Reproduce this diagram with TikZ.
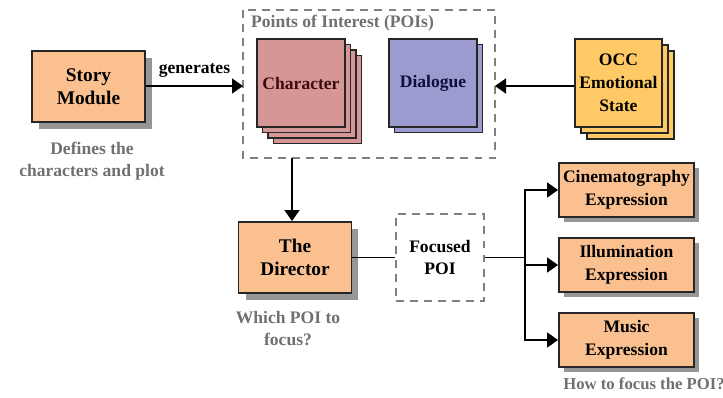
\documentclass[tikz,border=0pt]{standalone}
\usepackage{fontspec}
\setmainfont{Liberation Serif}
\usetikzlibrary{arrows.meta}
\definecolor{storyfill}{RGB}{250,192,144}
\definecolor{charfill}{RGB}{214,150,150}
\definecolor{dialfill}{RGB}{155,155,208}
\definecolor{occfill}{RGB}{255,202,102}
\definecolor{shadowgray}{RGB}{150,150,150}
\definecolor{notegray}{RGB}{112,112,112}
\definecolor{dashgray}{RGB}{128,128,128}
\tikzset{
	box/.style={draw=black!85, line width=1.1pt, align=center, inner sep=0pt,
		font=\bfseries\fontsize{10}{13}\selectfont},
	bigbox/.style={box, fill=storyfill, minimum width=2.26cm, minimum height=1.42cm,
		font=\bfseries\fontsize{11}{13}\selectfont},
	bigshadow/.style={fill=shadowgray, minimum width=2.26cm, minimum height=1.42cm, inner sep=0pt},
	exprbox/.style={box, fill=storyfill, minimum width=2.7cm, minimum height=1.08cm},
	exprshadow/.style={fill=shadowgray, minimum width=2.7cm, minimum height=1.08cm, inner sep=0pt},
	charbox/.style={box, fill=charfill, minimum width=1.76cm, minimum height=1.76cm, text={rgb,255:red,60;green,12;blue,12}},
	dialbox/.style={box, fill=dialfill, minimum width=1.76cm, minimum height=1.76cm, text={rgb,255:red,15;green,15;blue,60}},
	occbox/.style={box, fill=occfill, minimum width=1.74cm, minimum height=1.76cm},
	dashbox/.style={draw=dashgray, line width=1pt, dash pattern=on 4.5pt off 3.5pt},
	note/.style={align=center, text=notegray, font=\bfseries\fontsize{10}{12.5}\selectfont},
	flow/.style={line width=0.9pt, -{Triangle[length=2.2mm,width=3mm]}},
	link/.style={line width=0.9pt}
}
\begin{document}
\begin{tikzpicture}[x=0.02cm, y=-0.02cm]
	\useasboundingbox (0,0) rectangle (723,398);
	% story module
	\node[bigshadow] (storyshadow) at (95.5,93.5) {};
	\node[bigbox] (story) at (88.5,86.5) {Story\\Module};
	\node[note] (storynote) at (92,161) {Defines the\\characters and plot};
	% points of interest
	\draw[dashbox] (243,10) rectangle (495,158);
	\coordinate (poiw) at (243,86);
	\coordinate (poie) at (495,86);
	\coordinate (pois) at (292,158);
	\node[note, anchor=west] (poilabel) at (245,23) {Points of Interest (POIs)};
	\node[charbox] (char3) at (317.5,99.5) {};
	\node[charbox] (char2) at (312,94) {};
	\node[charbox] (char1) at (306.5,88.5) {};
	\node[charbox] (char) at (301,83) {Character};
	\node[dialbox] (dial1) at (438.5,88.5) {};
	\node[dialbox] (dial) at (433,83) {Dialogue};
	% occ
	\node[occbox] (occ2) at (630.5,95) {};
	\node[occbox] (occ1) at (624.5,89) {};
	\node[occbox] (occ) at (618.5,83) {OCC\\Emotional\\State};
	\draw[flow] (story.east |- poiw) -- node[above=1pt, font=\bfseries\fontsize{10}{12}\selectfont] (gen) {generates} (poiw);
	\draw[flow] (occ.west |- poie) -- (poie);
	% director
	\node[bigshadow] (dirshadow) at (302,264.5) {};
	\node[bigbox] (director) at (295,257.5) {The\\Director};
	\node[note] (dirnote) at (288,329) {Which POI to\\focus?};
	\draw[flow] (pois) -- (pois |- director.north);
	\node[dashbox, align=center, font=\bfseries\fontsize{10}{13}\selectfont,
		minimum width=1.76cm, minimum height=1.74cm] (focused) at (440,257.5) {Focused\\POI};
	\draw[link] (director) -- (focused);
	\coordinate (split) at (525,257.5);
	\draw[link] (focused) -- (split);
	% expressions
	\node[exprshadow] (cineshadow) at (631.5,195) {};
	\node[exprbox] (cine) at (626.5,190) {Cinematography\\Expression};
	\node[exprshadow] (illushadow) at (631.5,270) {};
	\node[exprbox] (illu) at (626.5,265) {Illumination\\Expression};
	\node[exprshadow] (musicshadow) at (631.5,345) {};
	\node[exprbox] (music) at (626.5,340) {Music\\Expression};
	\draw[flow] (split) |- (cine.west);
	\draw[flow] (split) |- (illu.west);
	\draw[flow] (split) |- (music.west);
	\node[note, font=\bfseries\fontsize{9.5}{12}\selectfont] (hownote) at (644,384) {How to focus the POI?};
\end{tikzpicture}
\end{document}
